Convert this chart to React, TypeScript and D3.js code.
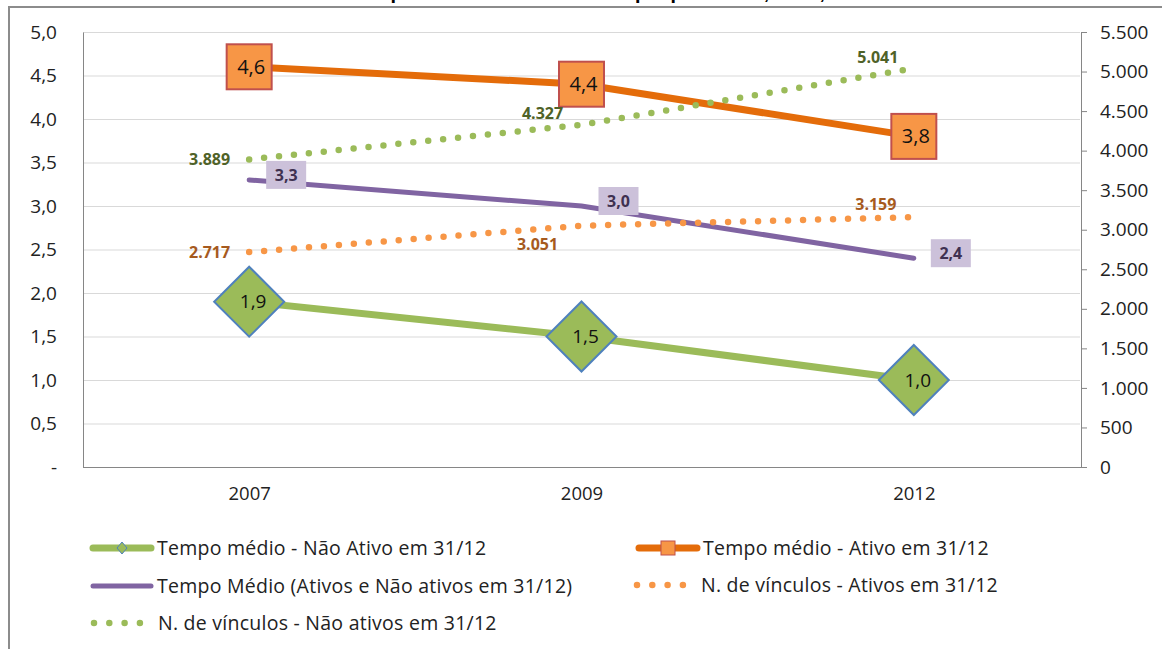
import React, { useEffect, useRef } from 'react';
import * as d3 from 'd3';

const W = 1162;
const H = 649;
const plot = { left: 83, right: 1080, top: 32, bottom: 467 };

const title = 'Indústria: tempo médio e vínculos – Itaquaquecetuba, 2007, 2009 e 2012';
const years = ['2007', '2009', '2012'];
const tempoNaoAtivo = [1.9, 1.5, 1.0];
const tempoAtivo = [4.6, 4.4, 3.8];
const tempoMedio = [3.3, 3.0, 2.4];
const vinculosAtivos = [2717, 3051, 3159];
const vinculosNaoAtivos = [3889, 4327, 5041];
const leftTicks = [0, 0.5, 1, 1.5, 2, 2.5, 3, 3.5, 4, 4.5, 5];
const rightTicks = [0, 500, 1000, 1500, 2000, 2500, 3000, 3500, 4000, 4500, 5000, 5500];

const labelFont = '"Open Sans", Lato, sans-serif';

const ptBR = d3.formatLocale({ decimal: ',', thousands: '.', grouping: [3], currency: ['R$', ''] });
const fmtInt = ptBR.format(',d');
const fmtDec = ptBR.format('.1f');

const App = () => {
  const ref = useRef<SVGSVGElement>(null);

  useEffect(() => {
    const svg = d3.select(ref.current);
    svg.selectAll('*').remove();

    const x = d3.scalePoint().domain(years).range([plot.left, plot.right]).padding(0.5);
    const yL = d3.scaleLinear().domain([0, 5]).range([plot.bottom, plot.top]);
    const yR = d3.scaleLinear().domain([0, 5500]).range([plot.bottom, plot.top]);

    // frame + title (cut off at top, as in the source)
    svg.append('text')
      .attr('x', 600).attr('y', -1)
      .attr('text-anchor', 'middle')
      .style('font', 'bold 20px "Liberation Sans", Arial, sans-serif')
      .text(title);
    svg.append('path')
      .attr('d', `M9,${H}V7H${W}`)
      .attr('fill', 'none').attr('stroke', '#8c8c8c').attr('stroke-width', 2);

    // gridlines
    svg.append('g').selectAll('line').data(leftTicks.slice(1)).join('line')
      .attr('x1', plot.left).attr('x2', plot.right)
      .attr('y1', d => yL(d) + 0.5).attr('y2', d => yL(d) + 0.5)
      .attr('stroke', '#d9d9d9');

    // left axis
    const gl = svg.append('g')
      .attr('transform', `translate(${plot.left},0)`)
      .call(d3.axisLeft(yL).tickValues(leftTicks).tickSize(0).tickPadding(26)
        .tickFormat(d => (+d === 0 ? '-' : fmtDec(+d))));
    gl.select('.domain').attr('stroke', '#868686');
    gl.selectAll('text').style('font', `19px ${labelFont}`).attr('fill', '#222');

    // right axis
    const gr = svg.append('g')
      .attr('transform', `translate(${plot.right + 1},0)`)
      .call(d3.axisRight(yR).tickValues(rightTicks).tickSizeOuter(0).tickSize(6).tickPadding(13)
        .tickFormat(d => fmtInt(+d)));
    gr.select('.domain').attr('stroke', '#868686');
    gr.selectAll('line').attr('stroke', '#868686');
    gr.selectAll('text').style('font', `19px ${labelFont}`).attr('fill', '#222');

    // bottom axis
    const gb = svg.append('g')
      .attr('transform', `translate(0,${plot.bottom})`)
      .call(d3.axisBottom(x).tickSize(0).tickPadding(20));
    gb.select('.domain').attr('stroke', '#868686').attr('d', `M${plot.left},0.5H${plot.right + 1}`);
    gb.selectAll('text').style('font', `18.5px ${labelFont}`).attr('fill', '#222');

    const pts = (vals: number[], y: d3.ScaleLinear<number, number>) =>
      vals.map((v, i) => [x(years[i]) as number, y(v)] as [number, number]);
    const line = d3.line();

    // solid lines
    svg.append('path').attr('d', line(pts(tempoNaoAtivo, yL)))
      .attr('fill', 'none').attr('stroke', '#9bbb59').attr('stroke-width', 7);
    svg.append('path').attr('d', line(pts(tempoAtivo, yL)))
      .attr('fill', 'none').attr('stroke', '#e46c0a').attr('stroke-width', 7);
    svg.append('path').attr('d', line(pts(tempoMedio, yL)))
      .attr('fill', 'none').attr('stroke', '#8064a2').attr('stroke-width', 5).attr('stroke-linecap', 'round');

    // dotted lines
    const dotted = (vals: number[], color: string) =>
      svg.append('path').attr('d', line(pts(vals, yR)))
        .attr('fill', 'none').attr('stroke', color).attr('stroke-width', 6.5)
        .attr('stroke-linecap', 'round').attr('stroke-dasharray', '0 15');
    dotted(vinculosAtivos, '#f79646');
    dotted(vinculosNaoAtivos, '#9bbb59');

    // diamonds with labels
    const dia = svg.append('g').selectAll('g').data(tempoNaoAtivo).join('g')
      .attr('transform', (d, i) => `translate(${x(years[i])},${yL(d)})`);
    dia.append('path').attr('d', 'M0,-35L35,0L0,35L-35,0Z')
      .attr('fill', '#9bbb59').attr('stroke', '#4f81bd').attr('stroke-width', 2);
    dia.append('text').attr('text-anchor', 'middle').attr('dy', '0.35em').attr('x', 4)
      .style('font', `19px ${labelFont}`).attr('fill', '#111').text(d => fmtDec(d));

    // squares with labels
    const sq = svg.append('g').selectAll('g').data(tempoAtivo).join('g')
      .attr('transform', (d, i) => `translate(${x(years[i])},${yL(d)})`);
    sq.append('rect').attr('x', -22.5).attr('y', -22.5).attr('width', 45).attr('height', 45)
      .attr('fill', '#f79646').attr('stroke', '#c0504d').attr('stroke-width', 2);
    sq.append('text').attr('text-anchor', 'middle').attr('dy', '0.35em').attr('x', 2)
      .style('font', `20px ${labelFont}`).attr('fill', '#111').text(d => fmtDec(d));

    // purple label boxes
    const pb = svg.append('g').selectAll('g').data(tempoMedio).join('g')
      .attr('transform', (d, i) => `translate(${(x(years[i]) as number) + 37},${yL(d) - 5})`);
    pb.append('rect').attr('x', -20).attr('y', -14).attr('width', 40).attr('height', 28).attr('fill', '#ccc1da');
    pb.append('text').attr('text-anchor', 'middle').attr('dy', '0.35em')
      .style('font', `bold 16px ${labelFont}`).attr('fill', '#3f3151').text(d => fmtDec(d));

    // dotted series labels
    const lblAtivos: [number, number, string][] = [[-19, 0, 'end'], [-44, 19, 'middle'], [-38, -13, 'middle']];
    const lblNao: [number, number, string][] = [[-19, 0, 'end'], [-39, -11, 'middle'], [-36, -11, 'middle']];
    svg.append('g').selectAll('text').data(vinculosAtivos).join('text')
      .attr('x', (d, i) => (x(years[i]) as number) + lblAtivos[i][0])
      .attr('y', (d, i) => yR(d) + lblAtivos[i][1])
      .attr('dy', '0.35em').attr('text-anchor', (d, i) => lblAtivos[i][2])
      .style('font', `bold 16px ${labelFont}`).attr('fill', '#a65a1e').text(d => fmtInt(d));
    svg.append('g').selectAll('text').data(vinculosNaoAtivos).join('text')
      .attr('x', (d, i) => (x(years[i]) as number) + lblNao[i][0])
      .attr('y', (d, i) => yR(d) + lblNao[i][1])
      .attr('dy', '0.35em').attr('text-anchor', (d, i) => lblNao[i][2])
      .style('font', `bold 16px ${labelFont}`).attr('fill', '#4f6228').text(d => fmtInt(d));

    // legend
    const legend = [
      { name: 'Tempo médio - Não Ativo em 31/12', kind: 'diamond', color: '#9bbb59', x: 91, y: 548 },
      { name: 'Tempo médio - Ativo em 31/12', kind: 'square', color: '#e46c0a', x: 637, y: 548 },
      { name: 'Tempo Médio (Ativos e Não ativos em 31/12)', kind: 'line', color: '#8064a2', x: 91, y: 586 },
      { name: 'N. de vínculos - Ativos em 31/12', kind: 'dots', color: '#f79646', x: 637, y: 585 },
      { name: 'N. de vínculos - Não ativos em 31/12', kind: 'dots', color: '#9bbb59', x: 94, y: 623 },
    ];
    const lg = svg.append('g').selectAll('g').data(legend).join('g')
      .attr('transform', d => `translate(${d.x},${d.y})`);
    lg.each(function (d) {
      const g = d3.select(this);
      if (d.kind === 'dots') {
        g.append('path').attr('d', 'M0,0H46').attr('stroke', d.color).attr('stroke-width', 6.5)
          .attr('stroke-linecap', 'round').attr('stroke-dasharray', '0 15.3');
        g.append('text').attr('x', 64);
      } else {
        g.append('path').attr('d', 'M2,0H60').attr('stroke', d.color)
          .attr('stroke-width', d.kind === 'line' ? 5 : 7).attr('stroke-linecap', 'round');
        if (d.kind === 'diamond') {
          g.append('path').attr('d', 'M31,-6L36,0L31,6L26,0Z').attr('fill', '#9bbb59')
            .attr('stroke', '#4f81bd').attr('stroke-width', 1);
        }
        if (d.kind === 'square') {
          g.append('rect').attr('x', 24).attr('y', -7).attr('width', 14).attr('height', 14)
            .attr('fill', '#f79646').attr('stroke', '#c0504d').attr('stroke-width', 1);
        }
        g.append('text').attr('x', 66);
      }
      g.select('text').attr('dy', '0.35em').style('font', `19.5px ${labelFont}`)
        .style('letter-spacing', '0.25px').attr('fill', '#222').text(d.name);
    });
  }, []);

  return (
    <div style={{ position: 'absolute', left: 0, top: 0 }}>
      <svg ref={ref} width={W} height={H} style={{ display: 'block', background: '#fff' }} />
    </div>
  );
};

export default App;
